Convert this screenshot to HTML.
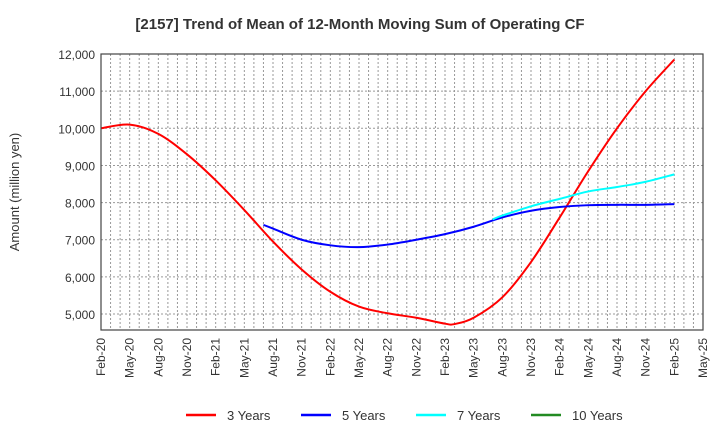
<!DOCTYPE html>
<html><head><meta charset="utf-8">
<style>
body{margin:0;background:#fff;font-family:"Liberation Sans",sans-serif;}
</style></head>
<body>
<svg id="chart" width="720" height="440" xmlns="http://www.w3.org/2000/svg" font-family="Liberation Sans, sans-serif">
<text x="360" y="29" text-anchor="middle" font-size="15" font-weight="bold" fill="#333">[2157]  Trend of Mean of 12-Month Moving Sum of Operating CF</text>
<text transform="translate(19,192) rotate(-90)" text-anchor="middle" font-size="13" fill="#333">Amount (million yen)</text>
<g id="grid"></g><g id="series"></g><g id="axes"></g>
<g>
<line x1="186" y1="415" x2="216" y2="415" stroke="#f00" stroke-width="2.5"/><text x="227" y="420" font-size="13" fill="#333">3 Years</text>
<line x1="301" y1="415" x2="331" y2="415" stroke="#00f" stroke-width="2.5"/><text x="342" y="420" font-size="13" fill="#333">5 Years</text>
<line x1="416" y1="415" x2="446" y2="415" stroke="#0ff" stroke-width="2.5"/><text x="457" y="420" font-size="13" fill="#333">7 Years</text>
<line x1="531" y1="415" x2="561" y2="415" stroke="#228b22" stroke-width="2.5"/><text x="572" y="420" font-size="13" fill="#333">10 Years</text>
</g>
</svg>
<script>
const xLabels=["Feb-20","May-20","Aug-20","Nov-20","Feb-21","May-21","Aug-21","Nov-21","Feb-22","May-22","Aug-22","Nov-22","Feb-23","May-23","Aug-23","Nov-23","Feb-24","May-24","Aug-24","Nov-24","Feb-25","May-25"];
const yTicks=[5000,6000,7000,8000,9000,10000,11000,12000];
// month index from Feb-20
const months3=[0,3,6,9,12,15,18,21,24,27,30,33,36,37,39,42,45,48,51,54,57,60];
const vals3=[10000,10100,9850,9300,8600,7800,6950,6200,5600,5200,5020,4900,4740,4730,4900,5450,6400,7600,8850,10000,11000,11850];
const months5=[17,18,21,24,27,30,33,36,39,42,45,48,51,54,57,60];
const vals5=[7400,7300,7000,6850,6800,6870,7000,7150,7350,7600,7780,7880,7930,7940,7940,7960];
const months7=[41,42,45,48,51,54,57,60];
const vals7=[7550,7650,7900,8100,8300,8420,8560,8760];
const L=101,R=703,T=54,B=330,ymin=4570,ymax=12000,nm=63;
const sx=m=>L+(R-L)*m/nm, sy=v=>B-(B-T)*(v-ymin)/(ymax-ymin);
const NS="http://www.w3.org/2000/svg";
function mk(t,a,p){const e=document.createElementNS(NS,t);for(const k in a)e.setAttribute(k,a[k]);p.appendChild(e);return e;}
const grid=document.getElementById('grid'),axes=document.getElementById('axes'),ser=document.getElementById('series');
for(let m=1;m<nm;m++){const l=mk('line',{x1:sx(m),x2:sx(m),y1:T,y2:B,stroke:'#999','stroke-dasharray':'2,2','stroke-width':1},grid);

}
yTicks.forEach(v=>{const l=mk('line',{x1:L,x2:R,y1:sy(v),y2:sy(v),stroke:'#999','stroke-dasharray':'2,2','stroke-width':1},grid);


const t=mk('text',{x:L-6,y:sy(v)+5,'text-anchor':'end','font-size':12,fill:'#333'},axes);t.textContent=v.toLocaleString('en-US');

});
const fr=mk('rect',{x:L,y:T,width:R-L,height:B-T,fill:'none',stroke:'#444','stroke-width':1.2},axes);


xLabels.forEach((s,i)=>{const x=sx(i*3);const t=mk('text',{transform:`translate(${x+4},${B+8}) rotate(-90)`,'text-anchor':'end','font-size':12,fill:'#333'},axes);t.textContent=s;

});
function path(ms,vs){const p=ms.map((m,i)=>[sx(m),sy(vs[i])]);let d=`M${p[0][0]},${p[0][1]}`;
for(let i=0;i<p.length-1;i++){const p0=p[i-1]||p[i],p1=p[i],p2=p[i+1],p3=p[i+2]||p2;
d+=` C${p1[0]+(p2[0]-p0[0])/6},${p1[1]+(p2[1]-p0[1])/6} ${p2[0]-(p3[0]-p1[0])/6},${p2[1]-(p3[1]-p1[1])/6} ${p2[0]},${p2[1]}`;}return d;}
[[months3,vals3,'#f00','line-3-years'],[months5,vals5,'#00f','line-5-years'],[months7,vals7,'#0ff','line-7-years']].forEach(s=>{
const e=mk('path',{d:path(s[0],s[1]),fill:'none',stroke:s[2],'stroke-width':2},ser);

});
</script>
</body></html>
